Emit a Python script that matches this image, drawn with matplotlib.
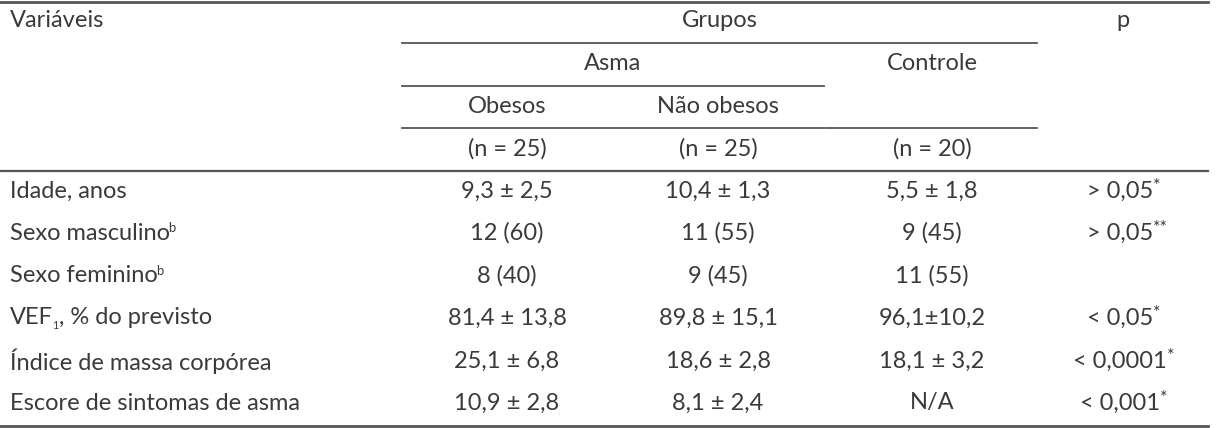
import matplotlib.pyplot as plt

plt.rcParams['font.family'] = ['Lato', 'DejaVu Sans']

# table content: (text, superscript/subscript marker)
variaveis = ["Idade, anos", "Sexo masculino", "Sexo feminino",
             "VEF", "Índice de massa corpórea", "Escore de sintomas de asma"]
var_sup = ["", "b", "b", "", "", ""]
obesos = ["9,3 ± 2,5", "12 (60)", "8 (40)", "81,4 ± 13,8", "25,1 ± 6,8", "10,9 ± 2,8"]
nao_obesos = ["10,4 ± 1,3", "11 (55)", "9 (45)", "89,8 ± 15,1", "18,6 ± 2,8", "8,1 ± 2,4"]
controle = ["5,5 ± 1,8", "9 (45)", "11 (55)", "96,1±10,2", "18,1 ± 3,2", "N/A"]
p_valor = ["> 0,05", "> 0,05", "", "< 0,05", "< 0,0001", "< 0,001"]
p_sup = ["*", "**", "", "*", "*", "*"]
n_grupos = ["(n = 25)", "(n = 25)", "(n = 20)"]

txt = "#3a3a3a"
ln = "#555555"
fs = 17

fig = plt.figure(figsize=(12.22, 4.28), dpi=100)
ax = fig.add_axes([0, 0, 1, 1])
ax.set_xlim(0, 1222)
ax.set_ylim(428, 0)
ax.axis("off")

col_x = [507, 718, 932, 1120]
row_y = [191, 233, 276, 318, 361, 403]

# rules
ax.plot([0, 1208], [2, 2], color=ln, lw=2)
ax.plot([0, 1208], [426, 426], color=ln, lw=2)
for x0, x1 in [(0, 400), (402, 824), (826, 1037), (1039, 1208)]:
    ax.plot([x0, x1], [171, 171], color=ln, lw=1.6)
ax.plot([402, 1037], [43, 43], color=ln, lw=1.3)
ax.plot([402, 824], [86, 86], color=ln, lw=1.3)
ax.plot([402, 824], [128, 128], color=ln, lw=1.3)
ax.plot([826, 1037], [128, 128], color=ln, lw=1.3)

# header
ax.text(10, 20, "Variáveis", fontsize=fs, color=txt, va="center", ha="left")
ax.text(720, 20, "Grupos", fontsize=fs, color=txt, va="center", ha="center")
ax.text(col_x[3] + 3, 20, "p", fontsize=fs, color=txt, va="center", ha="center")
ax.text(613, 63, "Asma", fontsize=fs, color=txt, va="center", ha="center")
ax.text(col_x[2], 63, "Controle", fontsize=fs, color=txt, va="center", ha="center")
ax.text(col_x[0], 106, "Obesos", fontsize=fs, color=txt, va="center", ha="center")
ax.text(col_x[1], 106, "Não obesos", fontsize=fs, color=txt, va="center", ha="center")
for x, s in zip(col_x[:3], n_grupos):
    ax.text(x, 149, s, fontsize=fs, color=txt, va="center", ha="center")

# body
for i, y in enumerate(row_y):
    t = ax.text(10, y, variaveis[i], fontsize=fs, color=txt, va="center", ha="left")
    if var_sup[i]:
        ax.annotate(var_sup[i], xy=(1, 0.72), xycoords=t, xytext=(-1.5, 0), textcoords="offset points",
                    fontsize=fs * 0.55, color=txt, va="center", ha="left")
    if variaveis[i] == "VEF":
        ax.annotate("1", xy=(1, 0.12), xycoords=t, xytext=(-0.5, 0), textcoords="offset points",
                    fontsize=fs * 0.45, color=txt, va="center", ha="left")
        ax.annotate(", % do previsto", xy=(1, 0.5), xycoords=t, xytext=(4, 0), textcoords="offset points",
                    fontsize=fs, color=txt, va="center", ha="left")
    ax.text(col_x[0], y, obesos[i], fontsize=fs, color=txt, va="center", ha="center")
    ax.text(col_x[1], y, nao_obesos[i], fontsize=fs, color=txt, va="center", ha="center")
    ax.text(col_x[2], y, controle[i], fontsize=fs, color=txt, va="center", ha="center")
    if p_valor[i]:
        t = ax.text(col_x[3], y, p_valor[i], fontsize=fs, color=txt, va="center", ha="center")
        ax.annotate(p_sup[i], xy=(1, 0.72), xycoords=t, xytext=(0, 0), textcoords="offset points",
                    fontsize=fs * 0.75, color=txt, va="center", ha="left")

fig.savefig("out.png", dpi=100)
